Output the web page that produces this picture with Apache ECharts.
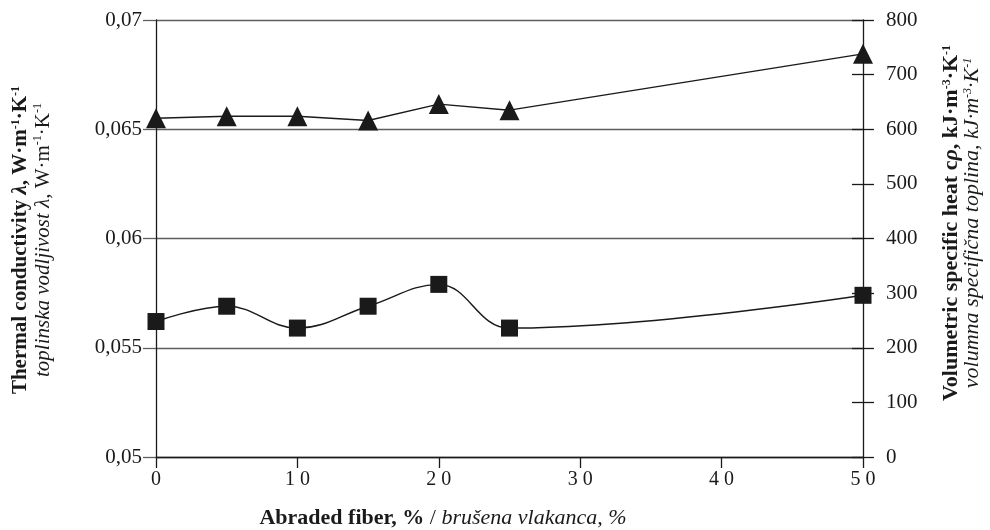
<!DOCTYPE html>
<html>
<head>
<meta charset="utf-8">
<script src="https://cdn.jsdelivr.net/npm/echarts@6/dist/echarts.min.js"></script>
<style>
  html, body { margin: 0; padding: 0; background: #fff; }
  #chart { width: 990px; height: 530px; }
</style>
</head>
<body>
<div id="chart"></div>
<script>
// abraded fiber share, %
const fiberShare = [0, 5, 10, 15, 20, 25, 50];
// thermal conductivity, W/(m K) - squares, left axis
const conductivity = [0.0562, 0.0569, 0.0559, 0.0569, 0.0579, 0.0559, 0.0574];
// volumetric specific heat, kJ/(m3 K) - triangles, right axis
const specificHeat = [620, 624, 624, 616, 646, 635, 738];

const serif = 'Liberation Serif, Times New Roman, serif';
const ink = '#1a1a1a';
const gridGray = '#5e5e5e';

// rich styles for the rotated two-line axis titles
function titleRich(size, lh) {
    return {
        b: { fontFamily: serif, fontSize: size, fontWeight: 'bold', lineHeight: lh },
        bi: { fontFamily: serif, fontSize: size, fontWeight: 'bold', fontStyle: 'italic', lineHeight: lh },
        bs: { fontFamily: serif, fontSize: 12, fontWeight: 'bold', lineHeight: 16, verticalAlign: 'top' },
        i: { fontFamily: serif, fontSize: size, fontStyle: 'italic', lineHeight: lh },
        is: { fontFamily: serif, fontSize: 12, fontStyle: 'italic', lineHeight: 16, verticalAlign: 'top' },
        n: { fontFamily: serif, fontSize: size, lineHeight: lh },
        s: { fontFamily: serif, fontSize: 12, lineHeight: 16, verticalAlign: 'top' }
    };
}

const chart = echarts.init(document.getElementById('chart'));

const option = {
    backgroundColor: '#fff',
    animation: false,
    grid: { left: 156, right: 127, top: 20, bottom: 73 },
    xAxis: {
        type: 'value',
        min: 0,
        max: 50,
        interval: 10,
        axisLine: { lineStyle: { color: ink, width: 1.3 } },
        axisTick: { length: 11, lineStyle: { color: ink, width: 1.3 } },
        axisLabel: {
            margin: 13,
            fontFamily: serif,
            fontSize: 20,
            color: ink,
            formatter: v => String(v).split('').join(' ')
        },
        splitLine: { show: false }
    },
    yAxis: [
        {
            type: 'value',
            position: 'left',
            min: 0.05,
            max: 0.07,
            interval: 0.005,
            axisLine: { show: true, lineStyle: { color: ink, width: 1.3 } },
            axisTick: { show: true, length: 13, lineStyle: { color: gridGray, width: 1.3 } },
            axisLabel: {
                margin: 14,
                fontFamily: serif,
                fontSize: 21,
                color: ink,
                formatter: v => String(+v.toFixed(3)).replace('.', ',')
            },
            splitLine: { show: true, lineStyle: { color: gridGray, width: 1.3 } }
        },
        {
            type: 'value',
            position: 'right',
            min: 0,
            max: 800,
            interval: 100,
            axisLine: { show: true, lineStyle: { color: ink, width: 1.3 } },
            axisTick: { show: true, length: 11, lineStyle: { color: ink, width: 1.3 } },
            axisLabel: {
                margin: 23,
                fontFamily: serif,
                fontSize: 21,
                color: ink
            },
            splitLine: { show: false }
        },
        {
            // inner half of the right ticks
            type: 'value',
            position: 'right',
            min: 0,
            max: 800,
            interval: 100,
            axisLine: { show: false },
            axisTick: { show: true, inside: true, length: 11, lineStyle: { color: ink, width: 1.3 } },
            axisLabel: { show: false },
            splitLine: { show: false }
        }
    ],
    series: [
        {
            name: 'conductivity',
            type: 'line',
            yAxisIndex: 0,
            smooth: 0.4,
            data: fiberShare.map((x, i) => [x, conductivity[i]]),
            symbol: 'rect',
            symbolSize: 17,
            lineStyle: { color: ink, width: 1.5 },
            itemStyle: { color: ink }
        },
        {
            name: 'specific heat',
            type: 'line',
            yAxisIndex: 1,
            data: fiberShare.map((x, i) => [x, specificHeat[i]]),
            symbol: 'triangle',
            symbolSize: 20,
            lineStyle: { color: ink, width: 1.5 },
            itemStyle: { color: ink }
        }
    ],
    graphic: [
        {
            type: 'text',
            x: 32,
            y: 240,
            rotation: Math.PI / 2,
            style: {
                text: '{b|Thermal conductivity }{bi|λ}{b|, W·m}{bs|-1}{b|·K}{bs|-1}\n' +
                      '{i|toplinska vodljivost λ,}{n| W·m}{s|-1}{n|·K}{s|-1}',
                align: 'center',
                verticalAlign: 'middle',
                fill: ink,
                rich: titleRich(21, 22)
            }
        },
        {
            type: 'text',
            x: 962,
            y: 223,
            rotation: Math.PI / 2,
            style: {
                text: '{b|Volumetric specific heat c}{bi|ρ}{b|, kJ·m}{bs|-3}{b|·K}{bs|-1}\n' +
                      '{i|volumna specifična toplina, kJ·m}{is|-3}{i|·K}{is|-1}',
                align: 'center',
                verticalAlign: 'middle',
                fill: ink,
                rich: titleRich(22, 21)
            }
        },
        {
            type: 'text',
            x: 443,
            y: 518,
            style: {
                text: '{b|Abraded fiber, %}{n| / }{i|brušena vlakanca, %}',
                align: 'center',
                verticalAlign: 'middle',
                fill: ink,
                rich: {
                    b: { fontFamily: serif, fontSize: 22, fontWeight: 'bold' },
                    n: { fontFamily: serif, fontSize: 22 },
                    i: { fontFamily: serif, fontSize: 22, fontStyle: 'italic' }
                }
            }
        }
    ]
};

chart.setOption(option);
</script>
</body>
</html>
